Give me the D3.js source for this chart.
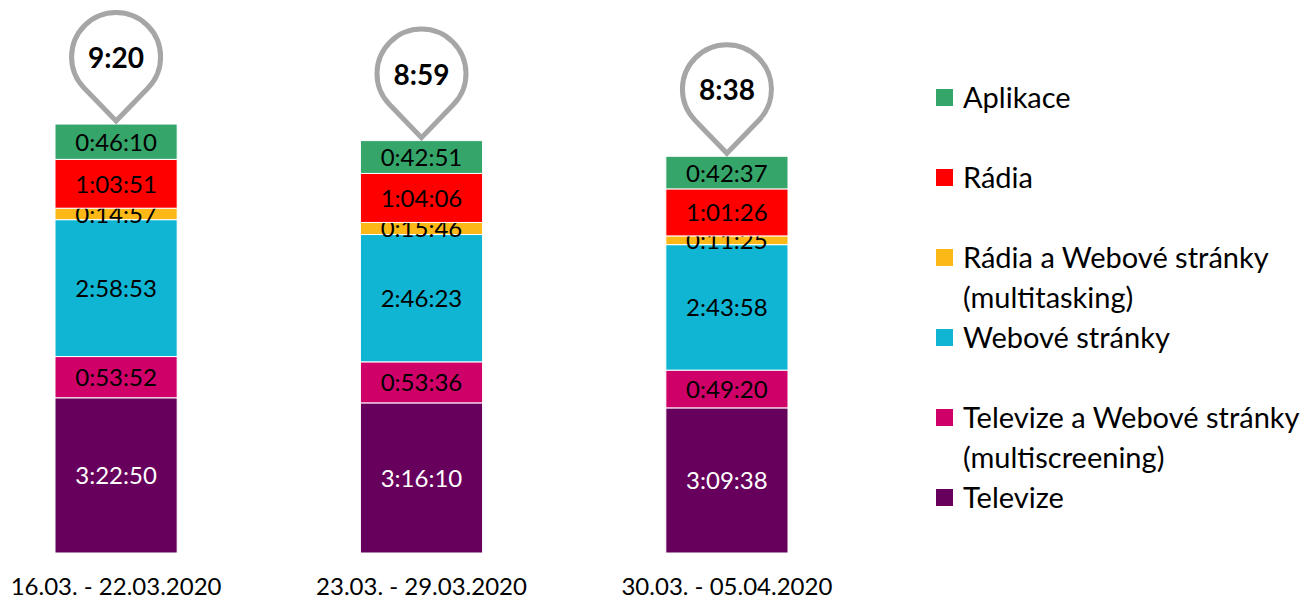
<!DOCTYPE html>
<html>
<head>
<meta charset="utf-8">
<script src="https://cdn.jsdelivr.net/npm/d3@7"></script>
<style>
  html, body { margin: 0; padding: 0; background: #fff; }
  svg { display: block; font-family: Lato, "Open Sans", sans-serif; }
</style>
</head>
<body>
<svg id="chart" width="1311" height="599"></svg>
<script>
// Weekly periods (x categories)
const periods = ["16.03. - 22.03.2020", "23.03. - 29.03.2020", "30.03. - 05.04.2020"];

// Series, stacked bottom to top
const seriesKeys = ["tv", "tvWeb", "web", "radioWeb", "radio", "apps"];
const seriesNames = {
  apps: ["Aplikace"],
  radio: ["Rádia"],
  radioWeb: ["Rádia a Webové stránky", "(multitasking)"],
  web: ["Webové stránky"],
  tvWeb: ["Televize a Webové stránky", "(multiscreening)"],
  tv: ["Televize"]
};
const seriesColors = {
  apps: "#35a56a",
  radio: "#ff0000",
  radioWeb: "#fbb817",
  web: "#10b5d3",
  tvWeb: "#cf0068",
  tv: "#66005c"
};
const legendOrder = ["apps", "radio", "radioWeb", "web", "tvWeb", "tv"];

// Daily time per week (h:mm:ss)
const tv       = ["3:22:50", "3:16:10", "3:09:38"];
const tvWeb    = ["0:53:52", "0:53:36", "0:49:20"];
const web      = ["2:58:53", "2:46:23", "2:43:58"];
const radioWeb = ["0:14:57", "0:15:46", "0:11:25"];
const radio    = ["1:03:51", "1:04:06", "1:01:26"];
const apps     = ["0:46:10", "0:42:51", "0:42:37"];

// Total daily time per week (h:mm)
const totalLabels = ["9:20", "8:59", "8:38"];

const toSec = s => s.split(":").reduce((a, v) => a * 60 + (+v), 0);

const raw = { tv, tvWeb, web, radioWeb, radio, apps };
const rows = periods.map((p, i) => {
  const r = { period: p };
  seriesKeys.forEach(k => { r[k] = toSec(raw[k][i]); r[k + "_label"] = raw[k][i]; });
  return r;
});

const svg = d3.select("#chart");

const x = d3.scaleBand().domain(periods).range([55, 788]).paddingInner(0.6).paddingOuter(0);
const y = d3.scaleLinear().domain([0, 12 * 3600]).range([553, 2]);

const stacked = d3.stack().keys(seriesKeys)(rows);

// Stacked segments
const layers = svg.append("g").selectAll("g")
  .data(stacked).join("g")
  .attr("fill", d => seriesColors[d.key]);

layers.selectAll("rect")
  .data(d => d.map(v => Object.assign(v, { key: d.key })))
  .join("rect")
  .attr("x", d => x(d.data.period))
  .attr("width", x.bandwidth())
  .attr("y", d => y(d[1]))
  .attr("height", d => y(d[0]) - y(d[1]))
  .attr("stroke", "#fff")
  .attr("stroke-width", 1);

// Segment value labels
layers.selectAll("text")
  .data(d => d)
  .join("text")
  .attr("x", d => x(d.data.period) + x.bandwidth() / 2)
  .attr("y", d => (y(d[0]) + y(d[1])) / 2 + 9)
  .attr("text-anchor", "middle")
  .attr("font-size", 24)
  .attr("fill", d => d.key === "tv" ? "#fff" : "#000")
  .text(d => d.data[d.key + "_label"]);

// Total time pins above each bar; the tip sits on the stack top
const tops = stacked[stacked.length - 1];

const R = 44.5, D = 64;
const alpha = Math.acos(R / D);
const pinPath = () => {
  const tx = R * Math.sin(alpha), ty = R * Math.cos(alpha);
  return `M0,${D} L${tx},${ty} A${R},${R} 0 1 0 ${-tx},${ty} Z`;
};

const pins = svg.append("g").selectAll("g")
  .data(rows.map((r, i) => ({ period: r.period, top: tops[i][1], label: totalLabels[i] })))
  .join("g")
  .attr("transform", d => `translate(${x(d.period) + x.bandwidth() / 2},${y(d.top) - D - 3})`);

pins.append("path")
  .attr("d", pinPath())
  .attr("fill", "#fff")
  .attr("stroke", "#a6a6a6")
  .attr("stroke-width", 5)
  .attr("stroke-linejoin", "miter");

pins.append("text")
  .attr("y", 11)
  .attr("text-anchor", "middle")
  .attr("font-size", 28)
  .attr("font-weight", "bold")
  .attr("fill", "#000")
  .text(d => d.label);

// Period labels
svg.append("g").selectAll("text")
  .data(periods).join("text")
  .attr("x", d => x(d) + x.bandwidth() / 2)
  .attr("y", 595)
  .attr("text-anchor", "middle")
  .attr("font-size", 24)
  .attr("fill", "#000")
  .text(d => d);

// Legend
const legendTop = [98, 178, 258, 338, 418, 498];
const legend = svg.append("g").selectAll("g")
  .data(legendOrder).join("g")
  .attr("transform", (d, i) => `translate(936,${legendTop[i]})`);

legend.append("rect")
  .attr("x", 0).attr("y", -9)
  .attr("width", 17).attr("height", 17)
  .attr("fill", d => seriesColors[d]);

legend.append("text")
  .attr("font-size", 29)
  .attr("fill", "#000")
  .selectAll("tspan")
  .data(d => seriesNames[d])
  .join("tspan")
  .attr("x", 27)
  .attr("y", (d, i) => 10 + i * 40)
  .text(d => d);
</script>
</body>
</html>
